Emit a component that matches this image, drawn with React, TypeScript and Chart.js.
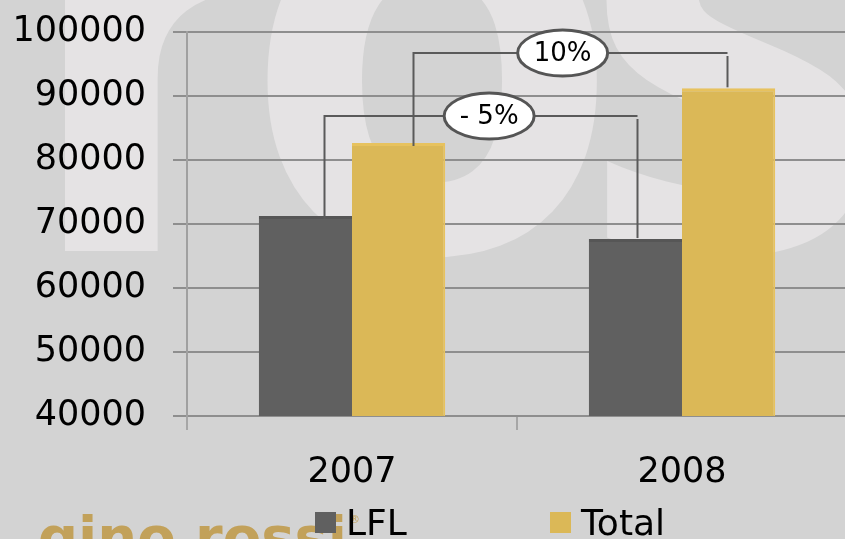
import React, { useEffect, useRef } from 'react';
import { Chart, registerables } from 'chart.js';

Chart.register(...registerables);

// ---- data ----
const categories = ['2007', '2008'];
const seriesNames = ['LFL', 'Total'];
const lflValues = [71250, 67650];
const totalValues = [82650, 91200];
const yMin = 40000;
const yMax = 100000;
const yStep = 10000;
const changeLabels = ['- 5%', '10%'];
const bracketLevels = [86900, 96700];
const watermarkText = 'ros';
const logoText = 'gino rossi';

const seriesColors = ['#606060', '#dbb857'];
const seriesBorders = ['#565656', '#e7c25e'];

const FONT = '"DejaVu Sans", Verdana, sans-serif';

const backgroundPlugin = {
  id: 'bgArt',
  beforeDraw(chart: any) {
    const ctx = chart.ctx as CanvasRenderingContext2D;
    const W = chart.width;
    const H = chart.height;
    ctx.save();
    ctx.fillStyle = '#d3d3d3';
    ctx.fillRect(0, 0, W, H);
    // watermark letters
    ctx.fillStyle = '#e5e3e4';
    ctx.textAlign = 'left';
    ctx.textBaseline = 'alphabetic';
    ctx.font = `bold 100px "Open Sans", sans-serif`;
    const mo = ctx.measureText('o');
    const ow = mo.actualBoundingBoxLeft + mo.actualBoundingBoxRight;
    const size = (100 * 336) / ow;
    ctx.font = `bold ${size}px "Open Sans", sans-serif`;
    const spots = [
      [65, 251],
      [259, 261],
      [598, 261],
    ];
    watermarkText.split('').forEach((ch, i) => {
      const m = ctx.measureText(ch);
      ctx.fillText(ch, spots[i][0] + m.actualBoundingBoxLeft, spots[i][1] - m.actualBoundingBoxDescent);
    });
    // logo
    ctx.fillStyle = '#c2a15a';
    ctx.font = `bold 56px ${FONT}`;
    ctx.fillText(logoText, 38, 556);
    const lw = ctx.measureText(logoText).width;
    ctx.font = `11px ${FONT}`;
    ctx.fillText('\u00AE', 38 + lw + 2, 523);
    ctx.restore();
  },
};

const bracketPlugin = {
  id: 'brackets',
  afterDatasetsDraw(chart: any) {
    const ctx = chart.ctx as CanvasRenderingContext2D;
    const yScale = chart.scales.y;
    const legOffsets = [
      [19, 2],
      [14.5, -2],
    ];
    const fracs = [0.526, 0.475];
    ctx.save();
    for (let d = 0; d < 2; d++) {
      const meta = chart.getDatasetMeta(d);
      const b0 = meta.data[0];
      const b1 = meta.data[1];
      const x0 = Math.round(b0.x + legOffsets[d][0]) + 0.5;
      const x1 = Math.round(b1.x + legOffsets[d][1]) + 0.5;
      const yl = Math.round(yScale.getPixelForValue(bracketLevels[d]));
      ctx.strokeStyle = '#5a5a5a';
      ctx.lineWidth = 2;
      ctx.beginPath();
      ctx.moveTo(x0, b0.y + 3);
      ctx.lineTo(x0, yl);
      ctx.lineTo(x1, yl);
      ctx.stroke();
      ctx.beginPath();
      ctx.moveTo(x1, yl + 3);
      ctx.lineTo(x1, b1.y - 1);
      ctx.stroke();
      const cx = x0 + fracs[d] * (x1 - x0);
      const cy = yl;
      ctx.beginPath();
      ctx.ellipse(cx, cy, 45, 23, 0, 0, Math.PI * 2);
      ctx.fillStyle = '#ffffff';
      ctx.fill();
      ctx.lineWidth = 3;
      ctx.strokeStyle = '#555555';
      ctx.stroke();
      ctx.fillStyle = '#000000';
      ctx.font = `26px ${FONT}`;
      ctx.textAlign = 'center';
      ctx.textBaseline = 'middle';
      ctx.fillText(changeLabels[d], cx, cy + 1);
    }
    ctx.restore();
  },
};

const legendPlugin = {
  id: 'customLegend',
  afterDraw(chart: any) {
    const ctx = chart.ctx as CanvasRenderingContext2D;
    const xs = [315, 550];
    ctx.save();
    chart.data.datasets.forEach((ds: any, i: number) => {
      ctx.fillStyle = ds.backgroundColor;
      ctx.fillRect(xs[i], 512, 21, 21);
      ctx.fillStyle = '#000000';
      ctx.font = `36px ${FONT}`;
      ctx.textAlign = 'left';
      ctx.textBaseline = 'alphabetic';
      ctx.fillText(ds.label, xs[i] + 31, 535);
    });
    ctx.restore();
  },
};

export default function App() {
  const canvasRef = useRef<HTMLCanvasElement | null>(null);

  useEffect(() => {
    document.body.style.margin = '0';
    const canvas = canvasRef.current;
    if (!canvas) return;
    const chart = new Chart(canvas, {
      type: 'bar',
      data: {
        labels: categories,
        datasets: [
          {
            label: seriesNames[0],
            data: lflValues,
            backgroundColor: seriesColors[0],
            borderColor: seriesBorders[0],
            borderWidth: { top: 3, left: 0, right: 0, bottom: 0 },
            borderSkipped: false,
            barPercentage: 1,
            categoryPercentage: 0.565,
          },
          {
            label: seriesNames[1],
            data: totalValues,
            backgroundColor: seriesColors[1],
            borderColor: seriesBorders[1],
            borderWidth: { top: 3, left: 0, right: 2, bottom: 0 },
            borderSkipped: false,
            barPercentage: 1,
            categoryPercentage: 0.565,
          },
        ],
      },
      options: {
        responsive: false,
        animation: false,
        devicePixelRatio: 1,
        layout: { padding: { top: 32, right: 3, left: 0, bottom: 0 } },
        plugins: {
          legend: { display: false },
          tooltip: { enabled: false },
        },
        scales: {
          x: {
            afterFit(scale: any) {
              scale.height = 123;
              scale.paddingLeft = 0;
              scale.paddingRight = 0;
            },
            grid: {
              display: true,
              drawOnChartArea: false,
              drawTicks: true,
              tickLength: 14,
              offset: true,
              color: '#a6a6a6',
              lineWidth: 2,
            },
            border: { display: true, color: '#8e8e8e', width: 2 },
            ticks: {
              color: '#000000',
              font: { family: FONT, size: 35 },
              padding: 22,
            },
          },
          y: {
            min: yMin,
            max: yMax,
            afterFit(scale: any) {
              scale.width = 187;
              scale.paddingTop = 0;
              scale.paddingBottom = 0;
            },
            grid: {
              color: '#8e8e8e',
              lineWidth: 2,
              tickLength: 14,
              drawTicks: true,
            },
            border: { display: true, color: '#a0a0a0', width: 2 },
            ticks: {
              stepSize: yStep,
              color: '#000000',
              font: { family: FONT, size: 35 },
              padding: 27,
              callback: (v: any) => String(v),
            },
          },
        },
      },
      plugins: [backgroundPlugin, bracketPlugin, legendPlugin],
    } as any);
    return () => chart.destroy();
  }, []);

  return (
    <div style={{ width: 845, height: 539, overflow: 'hidden', position: 'relative' }}>
      <canvas ref={canvasRef} width={850} height={539} style={{ display: 'block' }} />
    </div>
  );
}
